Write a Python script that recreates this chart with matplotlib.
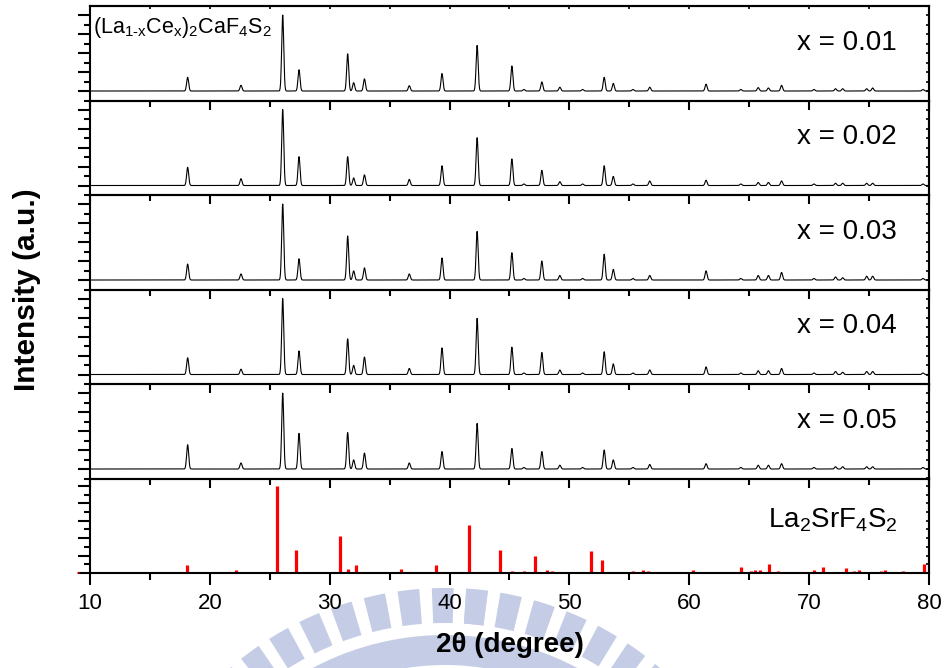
import numpy as np
import matplotlib
matplotlib.use("Agg")
import matplotlib.pyplot as plt
from matplotlib.ticker import MultipleLocator, NullFormatter
from matplotlib.patches import Wedge

plt.rcParams['font.family'] = ['Liberation Sans', 'DejaVu Sans']
plt.rcParams['mathtext.fontset'] = 'custom'
plt.rcParams['mathtext.rm'] = 'Liberation Sans'
plt.rcParams['mathtext.it'] = 'Liberation Sans'
plt.rcParams['mathtext.default'] = 'regular'

# ---------------- data ----------------
peak_pos = [18.15, 22.6, 26.08, 27.44, 31.5, 32.0, 32.9, 36.64, 39.37, 42.3,
            45.2, 46.2, 47.7, 49.2, 51.1, 52.9, 53.66, 55.3, 56.7, 61.4,
            64.3, 65.75, 66.6, 67.7, 70.4, 72.2, 72.8, 74.8, 75.3, 79.5]

int_x001 = [18, 7.5, 100, 28, 49, 11, 16, 7, 23, 60,
            33, 2, 12, 5, 2, 18, 10, 2, 5, 9,
            2, 4.5, 4, 7.5, 2, 3, 3, 3, 4, 2]
int_x002 = [24, 9, 100, 38, 38, 10, 14, 8, 26, 63,
            35, 2, 20, 5, 2, 26, 12, 2, 6, 7,
            2, 4, 4, 6, 2, 3, 3, 3, 3, 2]
int_x003 = [21, 8, 100, 28, 58, 12, 16, 8, 29, 64,
            36, 2, 25, 6, 2, 34, 14, 2, 6, 12,
            2, 6, 6, 10, 2, 4, 3, 5, 5, 2]
int_x004 = [22, 7, 100, 31, 47, 12, 23, 8, 35, 74,
            36, 2, 29, 6, 2, 30, 14, 2, 6, 10,
            2, 5, 5, 8, 2, 4, 3, 4, 4, 2]
int_x005 = [32, 8, 100, 47, 48, 12, 21, 8, 23, 60,
            27, 2, 23, 5, 2, 25, 12, 2, 6, 7,
            2, 5, 5, 7, 2, 3, 3, 3, 3, 2]

series = [int_x001, int_x002, int_x003, int_x004, int_x005]
labels = ['x = 0.01', 'x = 0.02', 'x = 0.03', 'x = 0.04', 'x = 0.05']

ref_pos = [9.02, 18.07, 22.15, 25.63, 27.2, 30.88, 31.55, 32.22, 35.97, 36.6,
           38.9, 41.62, 44.25, 45.23, 46.2, 47.16, 48.1, 48.57, 49.99, 51.83,
           52.72, 55.28, 56.17, 56.58, 58.72, 60.33, 64.31, 65.12, 65.5, 65.87,
           66.62, 67.37, 68.98, 70.43, 71.18, 73.05, 73.74, 74.16, 75.27, 75.99,
           76.35, 77.8, 79.6]
ref_int = [1.5, 9, 3.5, 100, 26, 42.5, 5, 9, 4.6, 1.5,
           9, 55, 27, 2, 2, 19, 3.5, 2.5, 1.5, 25,
           15, 2, 3.5, 2.5, 1.5, 3.5, 7, 2, 4, 3.5,
           10.7, 2.5, 1.5, 4, 6.5, 6, 2.5, 3.5, 1.5, 2,
           3, 2, 10]

x_ticks = [10, 20, 30, 40, 50, 60, 70, 80]

# ---------------- figure ----------------
W, H = 947, 668
fig = plt.figure(figsize=(W / 100, H / 100), dpi=100)
left, width = 0.095, 0.886
ph = 94.5 / H
bottom0 = 1 - 573 / H

# background watermark (light logo ring below the plot)
wm = fig.add_axes([0, 0, 1, 1], zorder=-5)
wm.set_xlim(0, W)
wm.set_ylim(H, 0)
wm.axis('off')
wm_col = '#c5cde6'
cx, cy = 445, 917
for k in range(-30, 31):
    a = 95.6 + 6.0 * k
    wm.add_patch(Wedge((cx, cy), 329, a - 1.9, a + 1.9, width=35,
                       facecolor=wm_col, edgecolor='none'))
wm.add_patch(Wedge((cx, cy), 282, 0, 360, width=30, facecolor=wm_col, edgecolor='none'))

two_theta = np.arange(10, 80.001, 0.01)


def profile(pos, ints, fwhm=0.2):
    s = fwhm / 2.3548
    y = np.zeros_like(two_theta)
    for p, h in zip(pos, ints):
        y += h * np.exp(-0.5 * ((two_theta - p) / s) ** 2)
    return y


def style_axes(ax, ymaj, ymin, bottom_panel=False):
    ax.set_facecolor('none')
    for sp in ax.spines.values():
        sp.set_linewidth(1.5)
    ax.set_xlim(10, 80)
    ax.xaxis.set_major_locator(MultipleLocator(10))
    ax.xaxis.set_minor_locator(MultipleLocator(5))
    ax.yaxis.set_major_locator(MultipleLocator(ymaj))
    ax.yaxis.set_minor_locator(MultipleLocator(ymin))
    ax.yaxis.set_major_formatter(NullFormatter())
    if bottom_panel:
        ax.tick_params(axis='x', which='major', direction='out', length=8.5, width=1.5,
                       labelsize=16, pad=6)
        ax.tick_params(axis='x', which='minor', direction='out', length=5, width=1.5)
    else:
        ax.tick_params(axis='x', which='major', direction='out', length=6.5, width=1.5,
                       labelbottom=False)
        ax.tick_params(axis='x', which='minor', direction='out', length=4.3, width=1.5)
    ax.tick_params(axis='y', which='major', direction='out', length=8.5, width=1.5,
                   left=True, right=False)
    ax.tick_params(axis='y', which='minor', direction='out', length=4.3, width=1.5,
                   left=True, right=False)
    axr = ax.secondary_yaxis('right')
    axr.yaxis.set_major_locator(MultipleLocator(ymin))
    axr.yaxis.set_major_formatter(NullFormatter())
    axr.tick_params(axis='y', which='both', direction='in', length=2.5, width=1.2)
    axr.spines['right'].set_linewidth(1.5)


# bottom reference panel
axb = fig.add_axes([left, bottom0, width, ph])
axb.vlines(ref_pos, 0, ref_int, colors='#ff0000', linewidth=2.3, clip_on=False)
axb.set_ylim(0, 108.6)
style_axes(axb, 20, 10, bottom_panel=True)
axb.set_xticks(x_ticks)
axb.set_xticklabels([str(t) for t in x_ticks])
axb.text(0.963, 0.56, r'La$_2$SrF$_4$S$_2$', transform=axb.transAxes,
         ha='right', va='center', fontsize=20)

# sample panels, bottom (x=0.05) to top (x=0.01)
for i in range(5):
    idx = 4 - i
    ax = fig.add_axes([left, bottom0 + (i + 1) * ph, width, ph])
    ax.plot(two_theta, profile(peak_pos, series[idx]), color='black', linewidth=0.8)
    ax.set_ylim(-12.5, 112)
    style_axes(ax, 25, 12.5)
    ax.text(0.961, 0.61, labels[idx], transform=ax.transAxes,
            ha='right', va='center', fontsize=20)
    if idx == 0:
        ax.text(0.004, 0.77, r'(La$_{1\text{-}x}$Ce$_x$)$_2$CaF$_4$S$_2$',
                transform=ax.transAxes, ha='left', va='center', fontsize=15.5)
        axt = ax.secondary_xaxis('top')
        axt.xaxis.set_major_locator(MultipleLocator(5))
        axt.xaxis.set_major_formatter(NullFormatter())
        axt.tick_params(axis='x', which='both', direction='in', length=2.5, width=1.2)
        axt.spines['top'].set_linewidth(1.5)

fig.text(0.028, 1 - 290 / H, 'Intensity (a.u.)', rotation=90, ha='center',
         va='center', fontsize=21.5, fontweight='bold')
fig.text((left + width / 2), 1 - 645 / H, '2θ (degree)', ha='center', va='center',
         fontsize=20, fontweight='bold')

fig.savefig('out.png', dpi=100)
